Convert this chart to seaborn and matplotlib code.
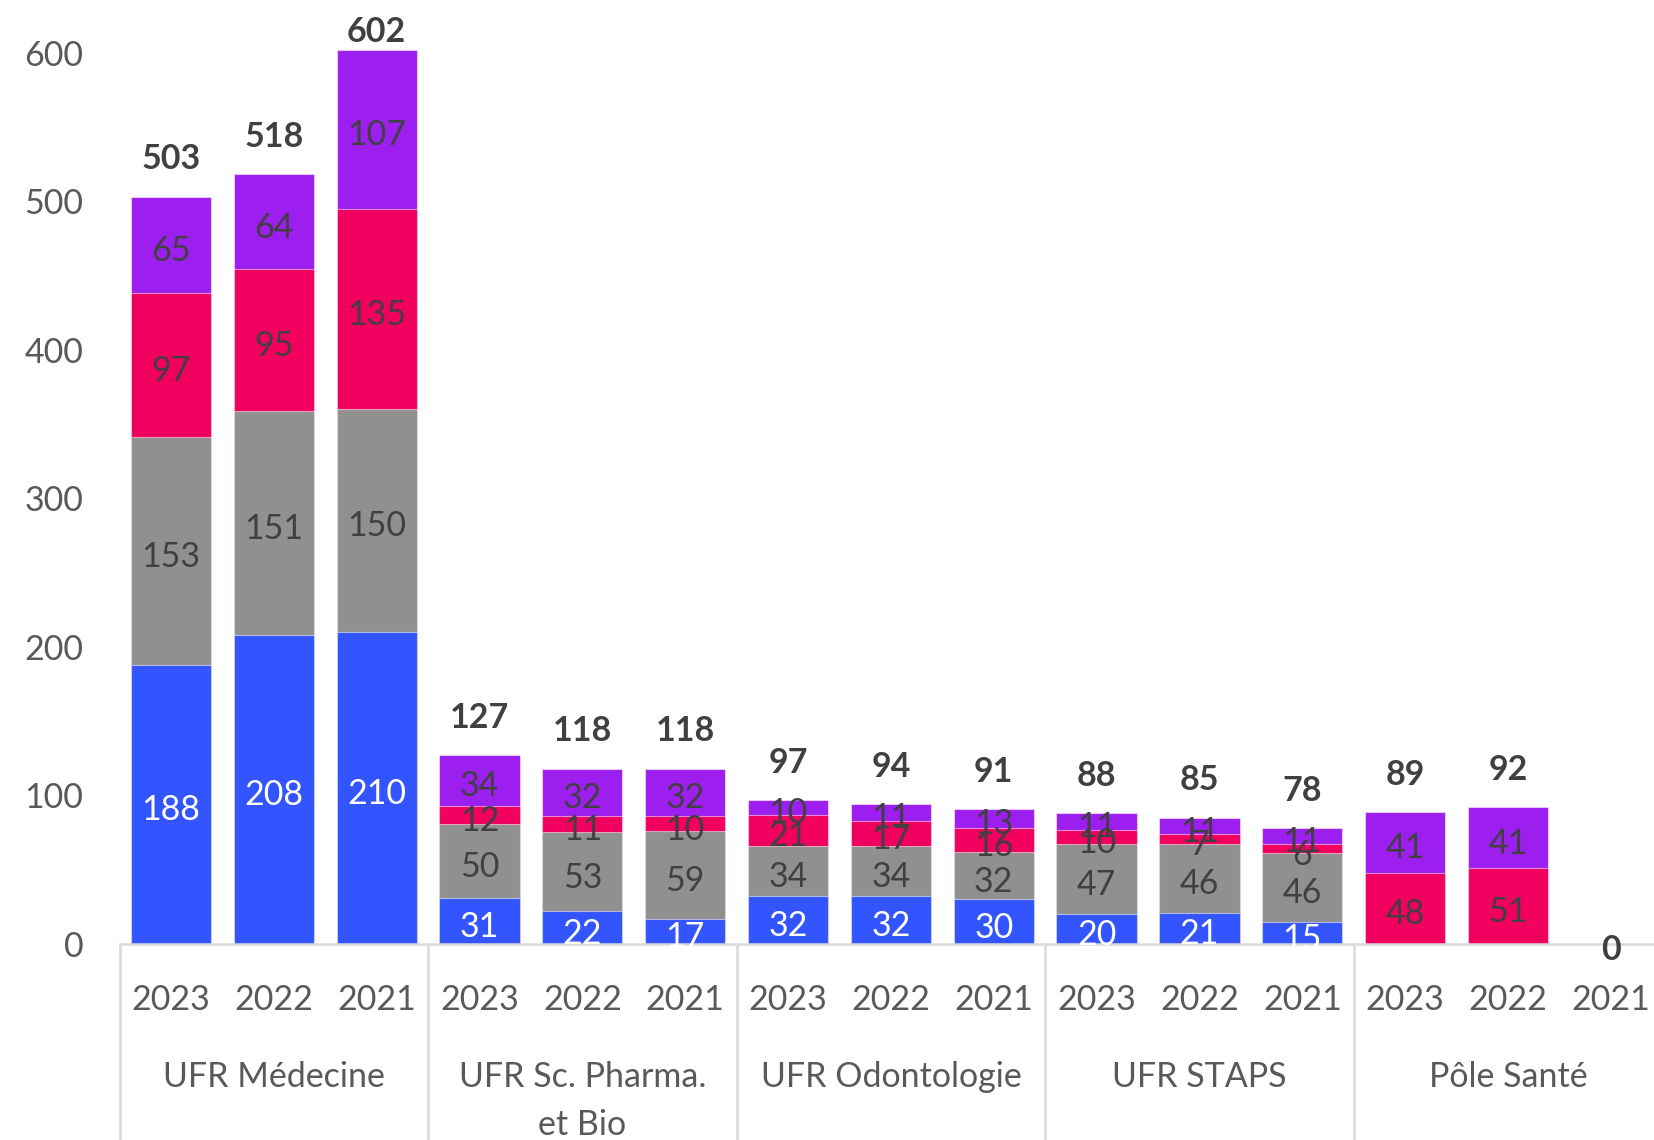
import pandas as pd
import seaborn as sns
import matplotlib.pyplot as plt
import matplotlib.transforms as mtransforms

# Data
groups = ["UFR Médecine", "UFR Sc. Pharma.\net Bio", "UFR Odontologie", "UFR STAPS", "Pôle Santé"]
years = ["2023", "2022", "2021"]
blue = [188, 208, 210, 31, 22, 17, 32, 32, 30, 20, 21, 15, 0, 0, 0]
gray = [153, 151, 150, 50, 53, 59, 34, 34, 32, 47, 46, 46, 0, 0, 0]
pink = [97, 95, 135, 12, 11, 10, 21, 17, 16, 10, 7, 6, 48, 51, 0]
purple = [65, 64, 107, 34, 32, 32, 10, 11, 13, 11, 11, 11, 41, 41, 0]

colors = {"blue": "#3355FF", "gray": "#909090", "pink": "#F20060", "purple": "#9C1FEF"}

sns.set_style("white")
plt.rcParams["font.family"] = ["Lato", "DejaVu Sans"]

n = len(blue)
df = pd.DataFrame({"pos": range(n), "blue": blue, "gray": gray, "pink": pink, "purple": purple})
series = ["blue", "gray", "pink", "purple"]
df["c_blue"] = df["blue"]
df["c_gray"] = df["c_blue"] + df["gray"]
df["c_pink"] = df["c_gray"] + df["pink"]
df["c_purple"] = df["c_pink"] + df["purple"]
df["total"] = df["c_purple"]

fig = plt.figure(figsize=(16.54, 11.4), dpi=100)
ax = fig.add_axes([0.0723, 0.172, 0.9277, 0.808])

# overlay cumulative bars, tallest first, to get the stacked look
for s in reversed(series):
    sns.barplot(data=df, x="pos", y="c_" + s, color=colors[s], width=0.78,
                saturation=1, edgecolor=(1, 1, 1, 0.5), linewidth=0.8, ax=ax)

fs = 24.5
# segment labels
for i, row in df.iterrows():
    base = 0
    for s in series:
        v = row[s]
        if v > 0:
            c = "white" if s == "blue" else "#404040"
            ax.text(i, base + v / 2 - 4, str(v), ha="center", va="center",
                    fontsize=fs, color=c)
        base += v
    # totals
    t = row["total"]
    ty = min(t + 25, 614) if t > 0 else -4
    ax.text(i, ty, str(t), ha="center", va="center", fontsize=fs,
            fontweight="bold", color="#404040")

ax.set_xlim(-0.5, 14.42)
ax.set_ylim(0, 620)
ax.set_xlabel("")
ax.set_ylabel("")
ax.set_yticks(range(0, 601, 100))
ax.tick_params(axis="y", length=0, pad=26, labelsize=fs, labelcolor="#595959")
ax.set_xticks(range(n))
ax.set_xticklabels([])
ax.tick_params(axis="x", length=0)
for sp in ["top", "right", "left"]:
    ax.spines[sp].set_visible(False)
ax.spines["bottom"].set_color("#D9D9D9")
ax.spines["bottom"].set_linewidth(1.8)

trans_fig = mtransforms.blended_transform_factory(ax.transData, fig.transFigure)
trans_ax = mtransforms.blended_transform_factory(ax.transData, ax.transAxes)

# year labels
for i in range(n):
    ax.text(i, 0.1225, years[i % 3], transform=trans_fig, ha="center", va="center",
            fontsize=fs, color="#595959")

# group labels and separators
for g, name in enumerate(groups):
    ax.text(g * 3 + 1, 0.0695, name, transform=trans_fig, ha="center", va="top",
            fontsize=fs, color="#595959", linespacing=1.62)
    ax.plot([g * 3 - 0.5] * 2, [0, -0.25], transform=trans_ax, color="#D9D9D9",
            lw=1.8, clip_on=False)

fig.savefig("out.png", dpi=100)
